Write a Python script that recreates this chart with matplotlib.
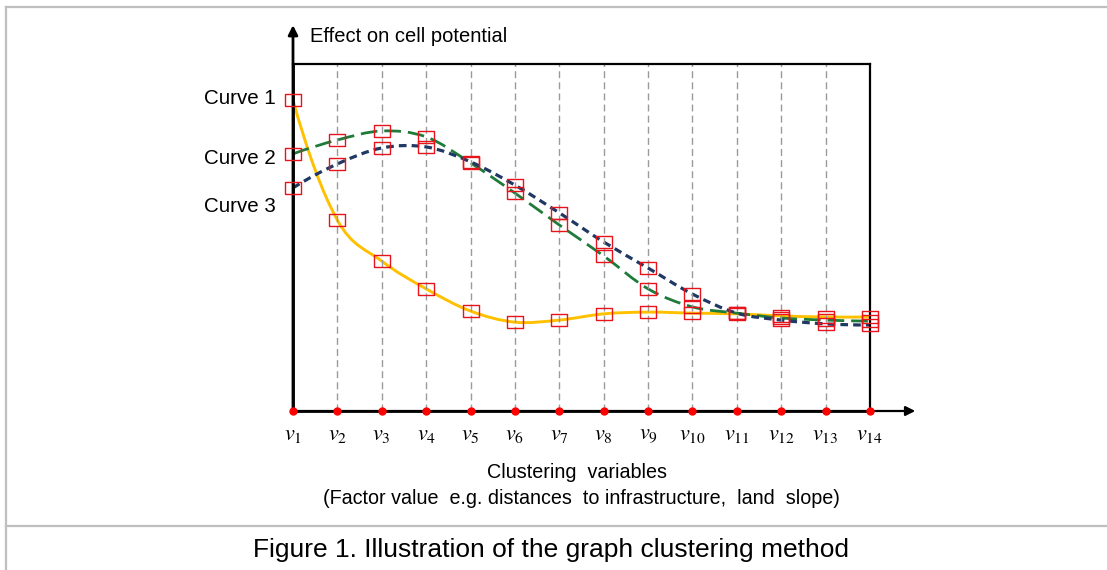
import numpy as np
import matplotlib
matplotlib.use("Agg")
import matplotlib.pyplot as plt
from matplotlib.path import Path
from matplotlib.patches import PathPatch
from matplotlib.lines import Line2D

plt.rcParams['font.family'] = ['Liberation Sans', 'DejaVu Sans']
plt.rcParams['mathtext.fontset'] = 'stix'

W, H = 1107, 570

# clustering variables v1..v14
x_vals = list(range(1, 15))
x_labels = [rf'$v_{{{i}}}$' for i in x_vals]

# effect on cell potential (arbitrary units, 0 = x-axis, 100 = top of box)
curve1 = [89.6, 55.0, 43.2, 35.2, 28.8, 25.6, 26.2, 28.0, 28.5, 28.2, 28.0, 27.4, 27.1, 27.1]
curve2 = [74.1, 78.1, 80.7, 79.0, 71.5, 62.8, 53.6, 44.7, 35.2, 30.0, 28.2, 26.8, 26.2, 25.9]
curve3 = [64.3, 71.2, 75.8, 76.1, 71.8, 65.1, 57.1, 48.7, 41.2, 33.7, 28.2, 26.2, 25.1, 24.8]
curve_names = ['Curve 1', 'Curve 2', 'Curve 3']


def smooth_path(xs, ys):
    """Catmull-Rom through the points, drawn as cubic bezier segments"""
    pts = np.column_stack([xs, ys]).astype(float)
    n = len(pts)
    tang = np.zeros_like(pts)
    for i in range(1, n - 1):
        tang[i] = (pts[i + 1] - pts[i - 1]) / 2.0
    # quadratic end conditions
    tang[0] = 2 * (pts[1] - pts[0]) - tang[1]
    tang[-1] = 2 * (pts[-1] - pts[-2]) - tang[-2]
    verts = [pts[0]]
    codes = [Path.MOVETO]
    for i in range(n - 1):
        verts += [pts[i] + tang[i] / 3.0, pts[i + 1] - tang[i + 1] / 3.0, pts[i + 1]]
        codes += [Path.CURVE4] * 3
    return Path(verts, codes)


def px(x, y):
    return x / W, 1 - y / H


fig = plt.figure(figsize=(W / 100, H / 100), dpi=100)
fig.patch.set_facecolor('white')

left, right, top, bottom = 293, 870, 64, 411
ax = fig.add_axes([left / W, 1 - bottom / H, (right - left) / W, (bottom - top) / H])
ax.set_xlim(1, 14)
ax.set_ylim(0, 100)
ax.patch.set_alpha(0)
for s in ['top', 'right']:
    ax.spines[s].set_linewidth(1.6)
for s in ['left', 'bottom']:
    ax.spines[s].set_linewidth(2.0)
ax.set_xticks([])
ax.set_yticks([])

# vertical guide lines
ax.vlines(x_vals[1:-1], 0, 100, colors='#9a9a9a', linestyles=(0, (5, 3)), linewidth=1.0)

# curves
styles = [
    ('#FFC000', '-', 2.1),
    ('#1E7B3A', (0, (6, 2.5)), 2.0),
    ('#1F3864', (0, (2.4, 1.6)), 2.3),
]
for ys, (col, ls, lw) in zip([curve1, curve2, curve3], styles):
    patch = PathPatch(smooth_path(x_vals, ys), facecolor='none', edgecolor=col,
                      linestyle=ls, linewidth=lw, capstyle='butt', clip_on=False)
    ax.add_patch(patch)

box_marker = [(-1.5, -1), (1.5, -1), (1.5, 1), (-1.5, 1), (-1.5, -1)]
for ys in [curve1, curve2, curve3]:
    ax.plot(x_vals, ys, linestyle='none', marker=box_marker, markersize=12,
            markerfacecolor='none', markeredgecolor='#E8141B', markeredgewidth=1.0,
            clip_on=False, zorder=5)

# axis arrows
ax.annotate('', xy=(1, 111.2), xytext=(1, 0), xycoords='data',
            arrowprops=dict(arrowstyle='-|>', color='black', lw=2.0,
                            mutation_scale=14, shrinkA=0, shrinkB=0),
            annotation_clip=False)
ax.annotate('', xy=(15.02, 0), xytext=(1, 0), xycoords='data',
            arrowprops=dict(arrowstyle='-|>', color='black', lw=1.6,
                            mutation_scale=14, shrinkA=0, shrinkB=0),
            annotation_clip=False)

# red dots on the x axis
ax.plot(x_vals, [0] * len(x_vals), linestyle='none', marker='o', markersize=5,
        color='#FF0000', clip_on=False, zorder=6)

for xv, lab in zip(x_vals, x_labels):
    ax.text(xv, -6.8, lab, ha='center', va='center', fontsize=16)

# curve names on the left
for name, yv in zip(curve_names, [98, 158, 206]):
    fig.text(*px(276, yv), name, ha='right', va='center', fontsize=14.8)

fig.text(*px(310, 37), 'Effect on cell potential', ha='left', va='center', fontsize=14.5)
fig.text(*px(577, 473), 'Clustering  variables', ha='center', va='center', fontsize=14.2)
fig.text(*px(581, 498), '(Factor value  e.g. distances  to infrastructure,  land  slope)',
         ha='center', va='center', fontsize=14.2)
fig.text(*px(551, 550), 'Figure 1. Illustration of the graph clustering method',
         ha='center', va='center', fontsize=19)

# frame lines around the figure
frame_col = '#BFBFBF'
fig.add_artist(Line2D([6 / W, 1], [1 - 7 / H, 1 - 7 / H], color=frame_col, lw=1.6))
fig.add_artist(Line2D([6 / W, 6 / W], [1 - 7 / H, 0], color=frame_col, lw=1.6))
fig.add_artist(Line2D([6 / W, 1], [1 - 526 / H, 1 - 526 / H], color=frame_col, lw=1.6))

fig.savefig('out.png', dpi=100)
